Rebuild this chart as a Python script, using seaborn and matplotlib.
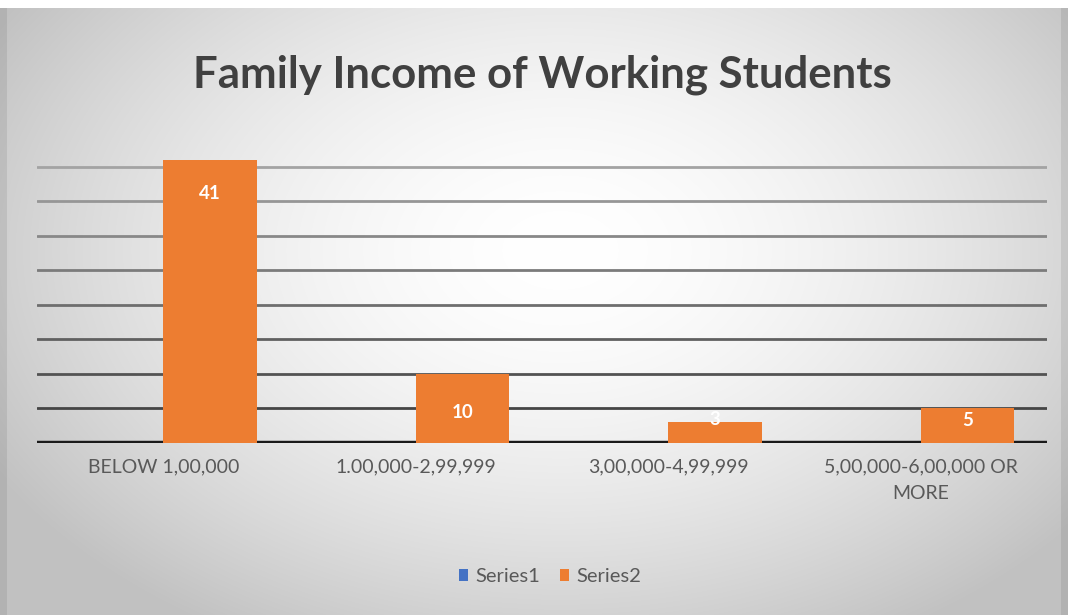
import numpy as np
import pandas as pd
import matplotlib
matplotlib.use("Agg")
import matplotlib.pyplot as plt
import seaborn as sns
from matplotlib.patches import Patch

categories = ["BELOW 1,00,000", "1.00,000-2,99,999", "3,00,000-4,99,999", "5,00,000-6,00,000 OR\nMORE"]
series1 = [0, 0, 0, 0]
series2 = [41, 10, 3, 5]
series_names = ["Series1", "Series2"]
colors = ["#4472C4", "#ED7D31"]
title = "Family Income of Working Students"

df = pd.DataFrame({
    "cat": categories * 2,
    "val": series1 + series2,
    "series": [series_names[0]] * 4 + [series_names[1]] * 4,
})

sns.set_theme(style="white")
plt.rcParams['font.family'] = ['Lato', 'DejaVu Sans']

W, H = 1068, 615
fig = plt.figure(figsize=(W / 100, H / 100), dpi=100)

# background radial gradient
bg = fig.add_axes([0, 0, 1, 1])
yy, xx = np.mgrid[0:H, 0:W]
cx, cy = 560, 250
r = np.sqrt(((xx - cx) / 620.0) ** 2 + ((yy - cy) / 420.0) ** 2)
v = np.clip(1.0 - 0.22 * r ** 1.7, 0.76, 1.0)
img = np.dstack([v, v, v])
img[:8, :, :] = 1.0
img[8:, :7, :] *= 0.92
img[8:, -7:, :] *= 0.92
bg.imshow(img, aspect="auto", extent=[0, W, H, 0])
bg.set_axis_off()

ax = fig.add_axes([37 / W, 1 - 443 / H, (1047 - 37) / W, (443 - 132) / H])
ax.patch.set_alpha(0)
sns.barplot(data=df, x="cat", y="val", hue="series", hue_order=series_names,
            palette=colors, width=0.74, ax=ax, legend=False, saturation=1,
            edgecolor="none", linewidth=0)
ax.set_ylim(0, 45)
ax.set_yticks(np.arange(0, 45, 5))
ax.set_yticklabels([])
ax.tick_params(axis="y", length=0)
ax.tick_params(axis="x", length=0, labelsize=14, labelcolor="#595959", pad=11)
for t in ax.get_xticklabels():
    t.set_linespacing(1.7)
ax.set_xlabel("")
ax.set_ylabel("")
for s in ax.spines.values():
    s.set_visible(False)
ax.yaxis.grid(True)
gl = ax.get_ygridlines()
shades = np.linspace(0.22, 0.64, len(gl))
for i, g in enumerate(gl):
    g.set_color(str(shades[i]))
    g.set_linewidth(2.0 if i > 0 else 3.2)
ax.set_axisbelow(True)
gl[0].set_color("#1a1a1a")

# data labels (inside end)
label_offsets = [-34, -39, 3, -12]
for bar, val, off in zip(ax.containers[1], series2, label_offsets):
    ax.annotate(str(val), (bar.get_x() + bar.get_width() / 2, bar.get_height()),
                xytext=(0, off), textcoords="offset pixels", ha="center", va="center",
                color="white", fontsize=13.5, fontweight="bold", zorder=5)

fig.text(542 / W, 1 - 75 / H, title, ha="center", va="center", fontsize=31.5,
         fontweight="bold", color="#404040")

handles = [Patch(facecolor=c, edgecolor="none") for c in colors]
fig.legend(handles, series_names, loc="center", bbox_to_anchor=(550 / W, 1 - 577 / H),
           ncol=2, frameon=False, fontsize=14.5, handlelength=0.45, handleheight=0.55,
           columnspacing=1.0, handletextpad=0.35, labelcolor="#595959")

fig.savefig("out.png", dpi=100)
